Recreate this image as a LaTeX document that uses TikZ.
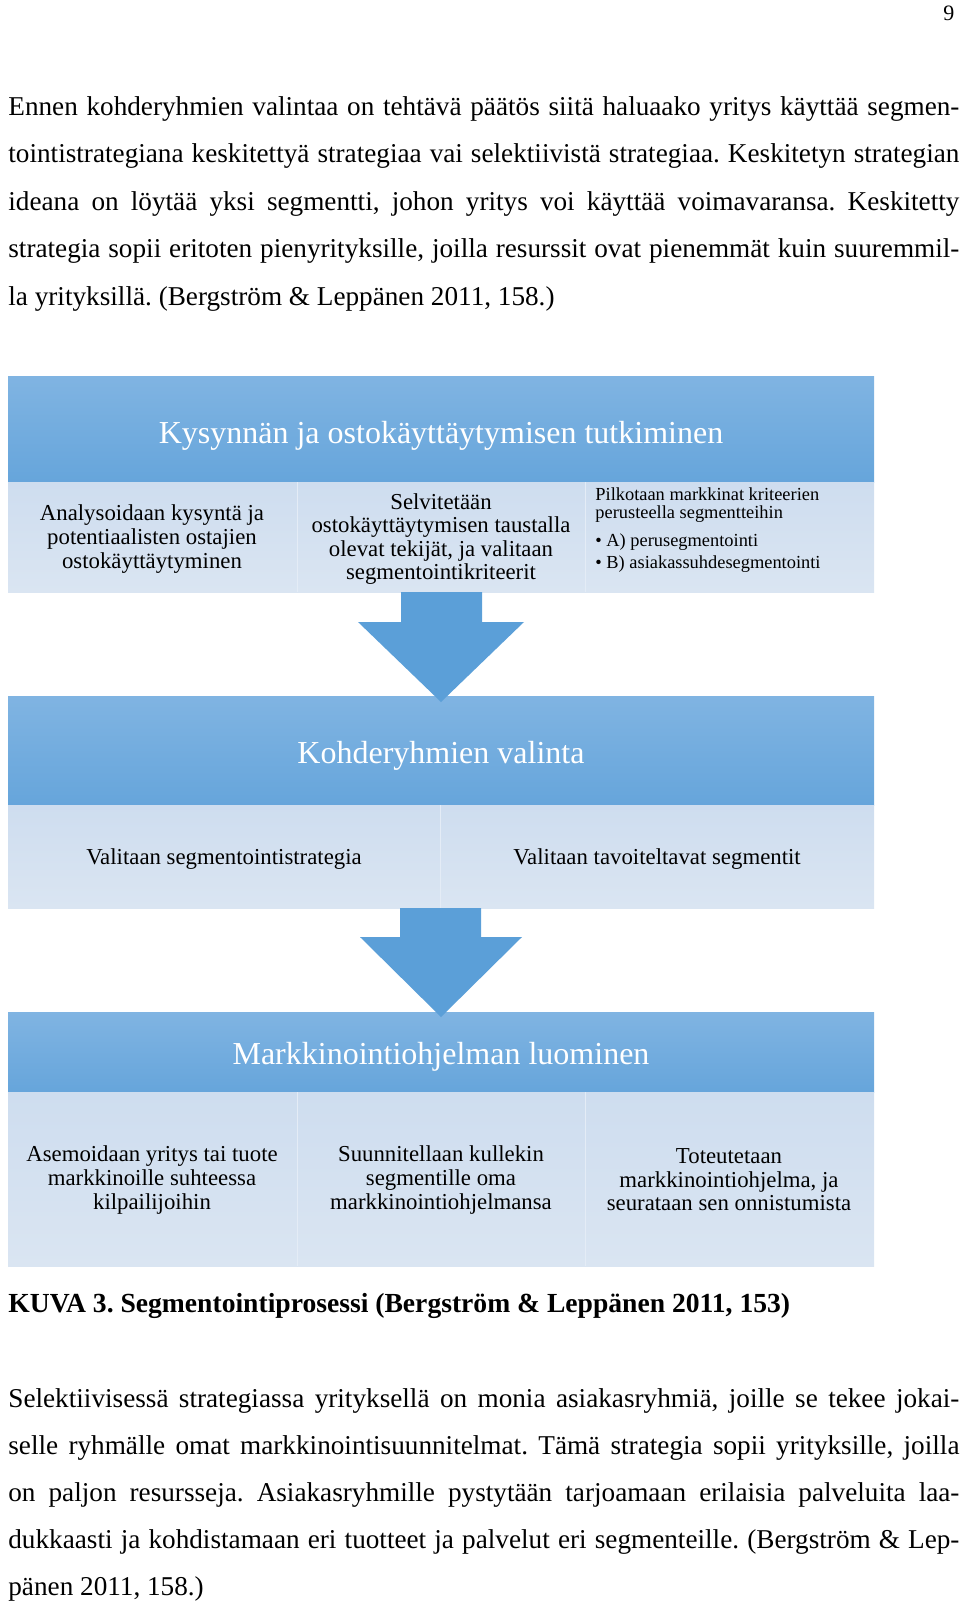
\documentclass[tikz,border=0pt]{standalone}
\usepackage{fontspec}
\setmainfont{Liberation Serif}
\frenchspacing
\definecolor{hdtop}{HTML}{80B4E2}
\definecolor{hdbot}{HTML}{66A5DB}
\definecolor{arrowblue}{HTML}{5B9FD8}
\definecolor{rowtop}{HTML}{CEDDEF}
\definecolor{rowbot}{HTML}{DAE5F2}
\definecolor{rowline}{HTML}{E4ECF6}
\newcommand{\fullline}[1]{\makebox[475.5pt][s]{#1}}
\tikzset{
  headband/.style={top color=hdtop, bottom color=hdbot},
  subrow/.style={top color=rowtop, bottom color=rowbot},
  blockarrow/.style={fill=arrowblue},
  headtext/.style={text=white, inner sep=0, font=\fontsize{16}{19}\selectfont},
  celltext/.style={align=center, inner sep=0, font=\fontsize{11.4}{11.8}\selectfont},
  smalltext/.style={align=left, inner sep=0, font=\fontsize{9.2}{9.2}\selectfont},
  bodyline/.style={anchor=base west, inner sep=0, font=\fontsize{13.6}{23.5}\selectfont},
}
\begin{document}
\begin{tikzpicture}[x=0.5pt,y=0.5pt,yscale=-1]
\useasboundingbox (0,0) rectangle (960,1603);

% page number
\node[anchor=base west, inner sep=0, font=\fontsize{11}{13}\selectfont] (pageno) at (943,20) {9};

% text before the figure
\node[bodyline] (para1a) at (8,115) {\fullline{Ennen kohderyhmien valintaa on tehtävä päätös siitä haluaako yritys käyttää segmen-}};
\node[bodyline] (para1b) at (8,162.5) {\fullline{tointistrategiana keskitettyä strategiaa vai selektiivistä strategiaa. Keskitetyn strategian}};
\node[bodyline] (para1c) at (8,210) {\fullline{ideana on löytää yksi segmentti, johon yritys voi käyttää voimavaransa. Keskitetty}};
\node[bodyline] (para1d) at (8,257.5) {\fullline{strategia sopii eritoten pienyrityksille, joilla resurssit ovat pienemmät kuin suuremmil-}};
\node[bodyline] (para1e) at (8,305) {la yrityksillä. (Bergström \& Leppänen 2011, 158.)};

% step 1
\shade[headband] (8,376) rectangle (874,482);
\shade[subrow] (8,482) rectangle (874,592);
\draw[rowline] (297,482) -- (297,592) (585,482) -- (585,592);

% step 2
\shade[headband] (8,696) rectangle (874,805);
\shade[subrow] (8,805) rectangle (874,908);
\draw[rowline] (440,805) -- (440,908);

% step 3
\shade[headband] (8,1012) rectangle (874,1092);
\shade[subrow] (8,1092) rectangle (874,1266);
\draw[rowline] (297,1092) -- (297,1266) (585,1092) -- (585,1266);

% arrows between the steps
\fill[blockarrow] (401,592) -- (482,592) -- (482,622) -- (524,622) -- (441,702) -- (358,622) -- (401,622) -- cycle;
\fill[blockarrow] (400,908) -- (481,908) -- (481,937) -- (522,937) -- (441,1017) -- (360,937) -- (400,937) -- cycle;

% texts of step 1
\node[headtext] (kysynta) at (441,436) {Kysynnän ja ostokäyttäytymisen tutkiminen};
\node[celltext] (analyysi) at (152,539) {Analysoidaan kysyntä ja\\potentiaalisten ostajien\\ostokäyttäytyminen};
\node[celltext] (selvitys) at (441,539) {Selvitetään\\ostokäyttäytymisen taustalla\\olevat tekijät, ja valitaan\\segmentointikriteerit};
\node[smalltext, anchor=west] (pilkonta) at (595,530) {Pilkotaan markkinat kriteerien\\perusteella segmentteihin\\[4.8pt]• A) perusegmentointi\\[1.8pt]• B) asiakassuhdesegmentointi};

% texts of step 2
\node[headtext] (kohde) at (441,756) {Kohderyhmien valinta};
\node[celltext] (strategia) at (224,859) {Valitaan segmentointistrategia};
\node[celltext] (tavoite) at (657,859) {Valitaan tavoiteltavat segmentit};

% texts of step 3
\node[headtext] (ohjelma) at (441,1057) {Markkinointiohjelman luominen};
\node[celltext] (asemointi) at (152,1180) {Asemoidaan yritys tai tuote\\markkinoille suhteessa\\kilpailijoihin};
\node[celltext] (suunnittelu) at (441,1180) {Suunnitellaan kullekin\\segmentille oma\\markkinointiohjelmansa};
\node[celltext] (toteutus) at (729,1180) {Toteutetaan\\markkinointiohjelma, ja\\seurataan sen onnistumista};

% caption
\node[anchor=base west, inner sep=0, font=\bfseries\fontsize{13.8}{16}\selectfont] (kuva) at (8,1312) {KUVA 3. Segmentointiprosessi (Bergström \& Leppänen 2011, 153)};

% text after the figure
\node[bodyline] (para2a) at (8,1407) {\fullline{Selektiivisessä strategiassa yrityksellä on monia asiakasryhmiä, joille se tekee jokai-}};
\node[bodyline] (para2b) at (8,1454) {\fullline{selle ryhmälle omat markkinointisuunnitelmat. Tämä strategia sopii yrityksille, joilla}};
\node[bodyline] (para2c) at (8,1501) {\fullline{on paljon resursseja. Asiakasryhmille pystytään tarjoamaan erilaisia palveluita laa-}};
\node[bodyline] (para2d) at (8,1548) {\fullline{dukkaasti ja kohdistamaan eri tuotteet ja palvelut eri segmenteille. (Bergström \& Lep-}};
\node[bodyline] (para2e) at (8,1595) {pänen 2011, 158.)};
\end{tikzpicture}
\end{document}
